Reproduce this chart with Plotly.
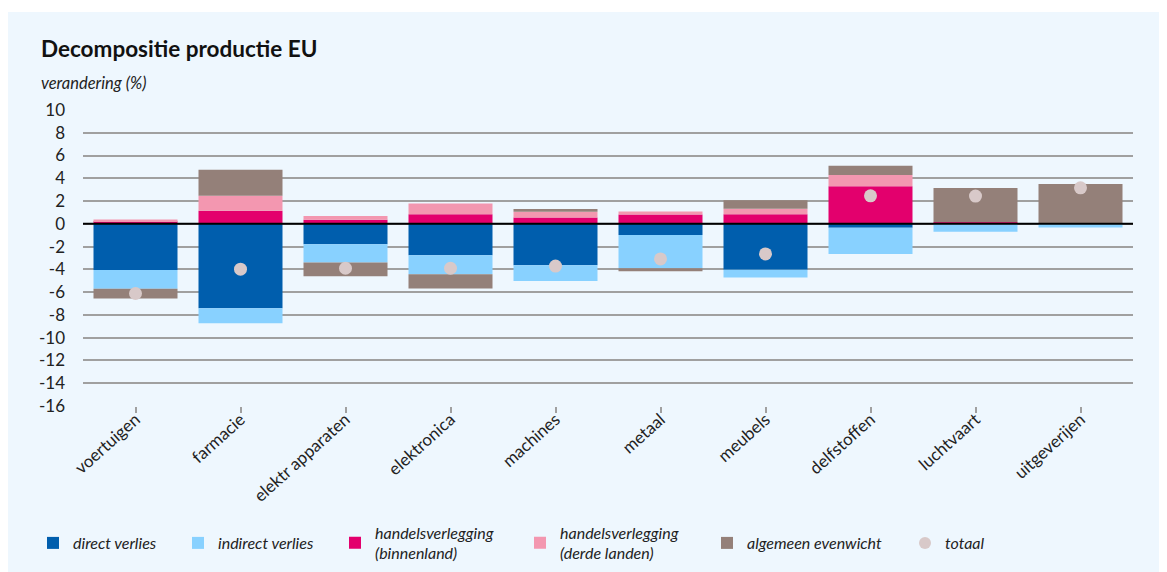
import plotly.graph_objects as go

categories = ["voertuigen", "farmacie", "elektr apparaten", "elektronica", "machines",
              "metaal", "meubels", "delfstoffen", "luchtvaart", "uitgeverijen"]

direct_verlies = [-4.05, -7.42, -1.79, -2.75, -3.63, -0.97, -4.04, -0.35, 0.0, 0.0]
indirect_verlies = [-1.65, -1.31, -1.61, -1.68, -1.38, -2.93, -0.68, -2.29, -0.70, -0.33]
handel_binnenland = [0.22, 1.14, 0.35, 0.85, 0.56, 0.82, 0.85, 3.31, 0.15, 0.02]
handel_derde = [0.17, 1.32, 0.35, 0.94, 0.50, 0.26, 0.47, 0.97, 0.0, 0.0]
algemeen_pos = [0.0, 2.29, 0.0, 0.0, 0.24, 0.0, 0.76, 0.82, 2.99, 3.47]
algemeen_neg = [-0.85, 0.0, -1.20, -1.26, 0.0, -0.26, 0.0, 0.0, 0.0, 0.0]
totaal = [-6.12, -3.98, -3.90, -3.90, -3.71, -3.08, -2.64, 2.46, 2.44, 3.16]

y_ticks = [10, 8, 6, 4, 2, 0, -2, -4, -6, -8, -10, -12, -14, -16]
y_ticktext = [str(v) for v in y_ticks]

algemeen = [p + n for p, n in zip(algemeen_pos, algemeen_neg)]

C_DIRECT = "#005EAD"
C_INDIRECT = "#88D1FF"
C_BINNEN = "#E3006D"
C_DERDE = "#F397B0"
C_ALG = "#948079"
C_TOT = "#D8C9C9"
BG = "#EEF7FE"
FONT = "Lato"
FIG_W, FIG_H = 1167, 572

# plot area in figure pixels
L, R, T, B = 75, 1125, 102, 398
W, H = R - L, B - T

def px(xp):
    return (xp - L) / W

def py(yp):
    return (B - yp) / H

fig = go.Figure()

def bar(name, vals, color, legend):
    fig.add_trace(go.Bar(x=categories, y=vals, name=name, marker_color=color,
                         marker_line_width=0, legend=legend))

bar("direct verlies", direct_verlies, C_DIRECT, "legend")
bar("indirect verlies", indirect_verlies, C_INDIRECT, "legend2")
bar("handelsverlegging<br>(binnenland)", handel_binnenland, C_BINNEN, "legend3")
bar("handelsverlegging<br>(derde landen)", handel_derde, C_DERDE, "legend4")
bar("algemeen evenwicht", algemeen, C_ALG, "legend5")

fig.add_trace(go.Scatter(x=categories, y=totaal, name="totaal", mode="markers",
                         marker=dict(color=C_TOT, size=13, line_width=0), legend="legend6"))

# thin white strip at the top like the reference
fig.add_shape(type="rect", xref="paper", yref="paper",
              x0=px(-10), x1=px(FIG_W + 10), y0=py(4), y1=py(-10),
              fillcolor="white", line_width=0, layer="below")
# zero line on top of the bars
fig.add_shape(type="line", xref="paper", yref="y", x0=0, x1=1, y0=0, y1=0,
              line=dict(color="black", width=2), layer="above")

legend_font = dict(family=FONT, size=16, style="italic", color="#222222")

def legend_at(xfig):
    return dict(orientation="h", x=px(xfig), xanchor="left",
                y=py(535), yanchor="middle", font=legend_font,
                bgcolor="rgba(0,0,0,0)", itemsizing="constant", valign="middle")

fig.update_layout(
    width=FIG_W, height=FIG_H,
    paper_bgcolor=BG, plot_bgcolor=BG,
    margin=dict(l=L, r=FIG_W - R, t=T, b=FIG_H - B, autoexpand=False),
    barmode="relative", bargap=0.2,
    font=dict(family=FONT, size=16, color="#222222"),
    showlegend=True,
    legend=legend_at(25),
    legend2=legend_at(170),
    legend3=legend_at(327),
    legend4=legend_at(512),
    legend5=legend_at(699),
    legend6=legend_at(897),
    annotations=[
        dict(text="<b>Decompositie productie EU</b>", xref="paper", yref="paper",
             x=px(31), y=py(40), xanchor="left", yanchor="middle",
             showarrow=False, font=dict(family=FONT, size=22.5, color="#111111")),
        dict(text="verandering (%)", xref="paper", yref="paper",
             x=px(31), y=py(75), xanchor="left", yanchor="middle",
             showarrow=False, font=dict(family=FONT, size=16.5, style="italic", color="#222222")),
    ],
)

fig.update_yaxes(range=[-16, 10], tickvals=y_ticks, ticktext=y_ticktext,
                 showgrid=True, gridcolor="#A0A0A0", gridwidth=1.5,
                 zeroline=False, showline=False, ticks="", ticklabelstandoff=17,
                 automargin=False,
                 tickfont=dict(family=FONT, size=17, color="#222222"))
fig.update_xaxes(range=[-0.5, len(categories) - 0.5],
                 showgrid=False, zeroline=False, showline=False,
                 ticks="outside", ticklen=6, tickcolor="#A0A0A0", tickwidth=1.5,
                 tickangle=-42, automargin=False, ticklabelstandoff=-10,
                 tickfont=dict(family=FONT, size=17, color="#222222"))

fig.write_html("out.html")
